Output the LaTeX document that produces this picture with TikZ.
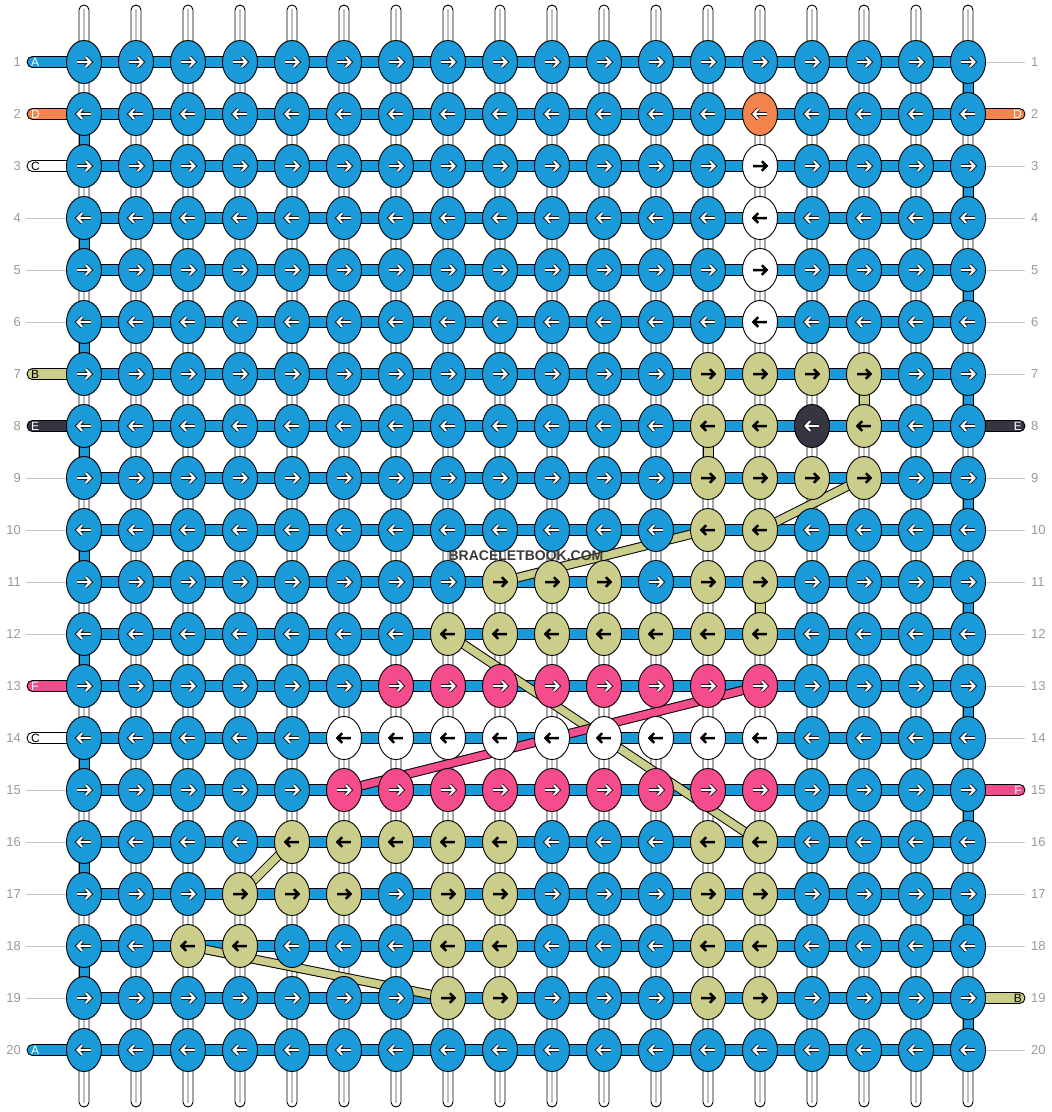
\documentclass[tikz,border=0pt]{standalone}
\usepackage{fontspec}
\setmainfont{Liberation Sans}
\usetikzlibrary{arrows.meta}
\definecolor{bl}{HTML}{1A9AD8}
\definecolor{og}{HTML}{F4844C}
\definecolor{gr}{HTML}{CBCE8A}
\definecolor{dk}{HTML}{363642}
\definecolor{pk}{HTML}{F44C8C}
\definecolor{wh}{HTML}{FFFFFF}
\definecolor{numgrey}{HTML}{9A9A9A}
\definecolor{lingrey}{HTML}{C4C4C4}
\definecolor{vgrey}{HTML}{BDBDBD}
\definecolor{txtgrey}{HTML}{3A3A3A}
\newcommand\setk[3]{\expandafter\gdef\csname kc-#1-#2\endcsname{#3}}
\newcommand\setrun[4]{\foreach \cc in {#2,...,#3}{\setk{#1}{\cc}{#4}}}
\setk{2}{14}{og}
\setk{3}{14}{wh}\setk{4}{14}{wh}\setk{5}{14}{wh}\setk{6}{14}{wh}
\setrun{7}{13}{16}{gr}
\setk{8}{13}{gr}\setk{8}{14}{gr}\setk{8}{15}{dk}\setk{8}{16}{gr}
\setrun{9}{13}{16}{gr}
\setk{10}{13}{gr}\setk{10}{14}{gr}
\setrun{11}{9}{11}{gr}\setk{11}{13}{gr}\setk{11}{14}{gr}
\setrun{12}{8}{14}{gr}
\setrun{13}{7}{14}{pk}
\setrun{14}{6}{14}{wh}
\setrun{15}{6}{14}{pk}
\setrun{16}{5}{9}{gr}\setk{16}{13}{gr}\setk{16}{14}{gr}
\setrun{17}{4}{6}{gr}\setk{17}{8}{gr}\setk{17}{9}{gr}\setk{17}{13}{gr}\setk{17}{14}{gr}
\setk{18}{3}{gr}\setk{18}{4}{gr}\setk{18}{8}{gr}\setk{18}{9}{gr}\setk{18}{13}{gr}\setk{18}{14}{gr}
\setk{19}{8}{gr}\setk{19}{9}{gr}\setk{19}{13}{gr}\setk{19}{14}{gr}
\def\grname{gr}\def\whname{wh}
\newcommand\gapseg[3]{%
  \pgfmathsetmacro\gx{84+52*(#1-1)}%
  \pgfmathsetmacro\gy{62+52*(#2-1)}%
  \filldraw[fill=#3, draw=black, line width=0.9] (\gx-5,\gy+15) rectangle (\gx+5,\gy+37);}
\newcommand\thread[3]{%
  \draw[black, line width=9.5] (#2) -- (#3);
  \draw[#1, line width=7.5] (#2) -- (#3);}
\tikzset{
  numlab/.style={text=numgrey, font=\fontsize{13}{13}\selectfont, inner sep=0pt},
  stublab/.style={font=\fontsize{12}{12}\selectfont, inner sep=0pt},
  knotshape/.style={draw=black, line width=0.9},
  sideline/.style={draw=lingrey, line width=1},
}
\begin{document}
\begin{tikzpicture}[x=1pt,y=-1pt]
\useasboundingbox (0,0) rectangle (1052,1112);
\fill[white] (0,0) rectangle (1052,1112);
% knot coordinates
\foreach \r in {1,...,20}{\foreach \c in {1,...,18}{%
  \coordinate (k-\r-\c) at ({84+52*(\c-1)},{62+52*(\r-1)});}}
% vertical warp strings
\foreach \c in {1,...,18}{%
  \pgfmathsetmacro\xx{84+52*(\c-1)}
  \filldraw[fill=white, draw=black, line width=0.9, rounded corners=5] (\xx-5,5) rectangle (\xx+5,1107);
  \draw[vgrey, line width=1.2] (\xx,9) -- (\xx,1103);
}
% coloured vertical segments
\foreach \g in {2,4,...,18}{\gapseg{1}{\g}{bl}}
\foreach \g in {1,3,...,19}{\gapseg{18}{\g}{bl}}
\gapseg{16}{7}{gr}
\gapseg{13}{8}{gr}
\gapseg{14}{11}{gr}
% side lines
\foreach \r in {4,5,6,9,10,11,12,15,16,17,18,19}{%
  \pgfmathsetmacro\yy{62+52*(\r-1)}
  \draw[sideline] (26,\yy) -- (67,\yy);}
\foreach \r in {1,3,4,5,6,7,9,10,11,12,13,14,16,17,18,20}{%
  \pgfmathsetmacro\yy{62+52*(\r-1)}
  \draw[sideline] (985,\yy) -- (1025,\yy);}
% left stubs
\foreach \r/\col/\lab/\tc in {1/bl/A/white,2/og/D/white,3/white/C/black,7/gr/B/black,8/dk/E/white,13/pk/F/white,14/white/C/black,20/bl/A/white}{%
  \pgfmathsetmacro\yy{62+52*(\r-1)}
  \filldraw[fill=\col, draw=black, line width=0.9, rounded corners=5.4] (27,\yy-5.5) rectangle (72,\yy+5.5);
  \node[stublab, text=\tc, anchor=west] (ls\r) at (31,\yy) {\lab};}
% right stubs
\foreach \r/\col/\lab/\tc in {2/og/D/white,8/dk/E/white,15/pk/F/white,19/gr/B/black}{%
  \pgfmathsetmacro\yy{62+52*(\r-1)}
  \filldraw[fill=\col, draw=black, line width=0.9, rounded corners=5.4] (980,\yy-5.5) rectangle (1025,\yy+5.5);
  \node[stublab, text=\tc, anchor=east] (rs\r) at (1022,\yy) {\lab};}
% horizontal weft bars
\foreach \r in {1,...,20}{%
  \pgfmathsetmacro\yy{62+52*(\r-1)}
  \filldraw[fill=bl, draw=black, line width=0.9] (84,\yy-5.5) rectangle (968,\yy+5.5);}
% row numbers
\foreach \r in {1,...,20}{%
  \pgfmathsetmacro\yy{62+52*(\r-1)}
  \node[numlab, anchor=east] (ln\r) at (21,\yy) {\r};
  \node[numlab, anchor=west] (rn\r) at (1031,\yy) {\r};}
% carried threads
\thread{gr}{k-9-16}{k-10-14}
\thread{gr}{k-10-13}{k-11-9}
\thread{gr}{k-12-8}{k-16-14}
\thread{pk}{k-13-14}{k-15-6}
\thread{gr}{k-16-5}{k-17-4}
\thread{gr}{k-18-3}{k-19-8}
% knots
\foreach \r in {1,...,20}{\foreach \c in {1,...,18}{%
  \ifcsname kc-\r-\c\endcsname\edef\kcol{\csname kc-\r-\c\endcsname}\else\def\kcol{bl}\fi
  \pgfmathsetmacro\xx{84+52*(\c-1)}
  \pgfmathsetmacro\yy{62+52*(\r-1)}
  \pgfmathsetmacro\dd{ifthenelse(mod(\r,2)==1,1,-1)}
  \filldraw[fill=\kcol, knotshape] (\xx,\yy) ellipse [x radius=17.5, y radius=21.5];
  \begin{scope}[shift={(\xx,\yy)}, xscale=\dd]
  \ifx\kcol\grname
    \draw[black, line width=2.5, line cap=square, line join=miter] (-6.8,0) -- (6.5,0) (1.8,-4.8) -- (6.5,0) -- (1.8,4.8);
  \else\ifx\kcol\whname
    \draw[black, line width=2.5, line cap=square, line join=miter] (-6.8,0) -- (6.5,0) (1.8,-4.8) -- (6.5,0) -- (1.8,4.8);
  \else
    \draw[black, line width=3.8, line cap=square, line join=miter] (-6.8,0) -- (6.5,0) (1.8,-4.8) -- (6.5,0) -- (1.8,4.8);
    \draw[white, line width=2.1, line cap=square, line join=miter] (-6.8,0) -- (6.5,0) (1.8,-4.8) -- (6.5,0) -- (1.8,4.8);
  \fi\fi
  \end{scope}
}}
% watermark
\node[font=\bfseries\fontsize{14}{14}\selectfont, text=txtgrey, inner sep=0pt] (wm) at (526,556) {BRACELETBOOK.COM};
\end{tikzpicture}
\end{document}
